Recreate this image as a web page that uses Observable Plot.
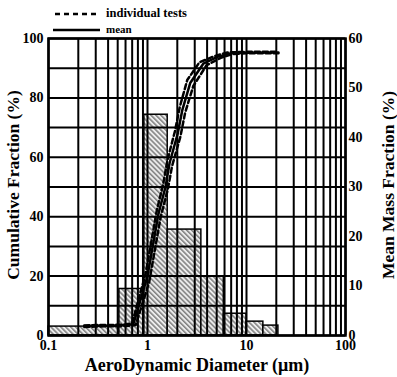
<!DOCTYPE html>
<html>
<head>
<meta charset="utf-8">
<script src="https://cdn.jsdelivr.net/npm/d3@7"></script>
<script src="https://cdn.jsdelivr.net/npm/@observablehq/plot@0.6"></script>
<style>
  html, body { margin: 0; padding: 0; background: white; }
  #wrap { position: relative; width: 397px; height: 377px; }
  .leg { position: absolute; font-family: 'Liberation Serif', 'Times New Roman', serif; font-weight: bold; color: black; white-space: nowrap; }
  .leg svg { position: absolute; }
</style>
</head>
<body>
<svg width="0" height="0" style="position:absolute">
  <defs>
    <pattern id="hatch" patternUnits="userSpaceOnUse" width="3.5" height="3.5" patternTransform="rotate(-45)">
      <rect width="3.5" height="3.5" fill="#ececec"></rect>
      <line x1="0.8" y1="0" x2="0.8" y2="3.5" stroke="#555" stroke-width="1.1"></line>
    </pattern>
  </defs>
</svg>
<div id="wrap">
  <div class="leg" style="left:53px; top:6px; font-size:12.5px;">
    <svg width="50" height="16" style="left:0; top:0;"><line x1="2" y1="8" x2="46" y2="8" stroke="black" stroke-width="2.5" stroke-dasharray="5,4"></line></svg>
    <span style="position:absolute; left:53px; top:0px;">individual tests</span>
  </div>
  <div class="leg" style="left:53px; top:22px; font-size:11px;">
    <svg width="50" height="16" style="left:0; top:0;"><line x1="0" y1="8" x2="47" y2="8" stroke="black" stroke-width="2.5"></line></svg>
    <span style="position:absolute; left:53px; top:1px;">mean</span>
  </div>
</div>
<script>
// Histogram (mean mass fraction, %), bin edges in µm
const binLo   = [0.1, 0.52, 0.93, 1.6, 3.5, 5.9, 10, 14.8];
const binHi   = [0.52, 0.93, 1.6, 3.5, 5.9, 10, 14.8, 21];
const binMass = [1.8, 9.4, 44.6, 21.4, 11.9, 4.4, 2.8, 2.0];

// Mean cumulative curve
const meanD = [0.23, 0.3, 0.4, 0.5, 0.6, 0.72, 1.0, 1.29, 1.52, 1.67, 2.02, 2.25, 2.7, 3.66, 5.1, 6.9, 10, 21];
const meanC = [3.2, 3.3, 3.3, 3.4, 3.5, 3.8, 20, 41, 50, 58, 68, 76, 85, 91.5, 93.8, 95, 95.2, 95.3];

// Individual tests
const testAD = [0.23, 0.3, 0.4, 0.5, 0.6, 0.7, 0.96, 1.24, 1.44, 1.59, 1.9, 2.12, 2.52, 3.35, 4.7, 6.4, 10, 21];
const testAC = [3.4, 3.5, 3.5, 3.6, 3.7, 4.2, 21, 42, 51, 59, 69, 77, 86, 92, 94, 95.3, 95.5, 95.5];
const testBD = [0.23, 0.3, 0.4, 0.5, 0.6, 0.76, 1.04, 1.36, 1.6, 1.77, 2.15, 2.4, 2.9, 3.95, 5.5, 7.3, 10, 21];
const testBC = [2.9, 3.0, 3.1, 3.1, 3.2, 3.5, 18, 40, 49, 57, 67, 75, 84, 91, 93.5, 94.8, 95, 95];

// Ticks
const xTicks = [0.1, 1, 10, 100];
const yTicksLeft = [0, 20, 40, 60, 80, 100];
const yTicksRight = [0, 10, 20, 30, 40, 50, 60];

const bars = binLo.map((lo, i) => ({lo, hi: binHi[i], mass: binMass[i]}));
const mean = meanD.map((d, i) => ({d, c: meanC[i]}));
const testA = testAD.map((d, i) => ({d, c: testAC[i]}));
const testB = testBD.map((d, i) => ({d, c: testBC[i]}));

const gridX = [];
for (const dec of [0.1, 1, 10]) for (let k = 1; k <= 9; k++) gridX.push(+(dec * k).toPrecision(3));
gridX.push(100);
const gridY = d3.range(0, 101, 10);
const RF = 100 / 60;

const chart = Plot.plot({
  width: 397, height: 377,
  marginLeft: 48, marginRight: 52, marginTop: 38, marginBottom: 42,
  x: {type: "log", domain: [0.1, 100]},
  y: {domain: [0, 100]},
  style: {fontFamily: "'Liberation Serif', 'Times New Roman', serif", fontWeight: "bold", fontSize: "14px", background: "transparent", color: "black", overflow: "visible"},
  marks: [
    Plot.rect(bars, {x1: "lo", x2: "hi", y1: 0, y2: d => d.mass * RF, fill: "url(#hatch)", stroke: "black", strokeWidth: 1.5}),
    Plot.ruleX(gridX, {strokeWidth: 2, stroke: "black"}),
    Plot.ruleY(gridY, {strokeWidth: 2, stroke: "black"}),
    Plot.frame({strokeWidth: 2.5, stroke: "black"}),
    Plot.line(testA, {x: "d", y: "c", strokeWidth: 2.5, strokeDasharray: "5,3", stroke: "black"}),
    Plot.line(testB, {x: "d", y: "c", strokeWidth: 2.5, strokeDasharray: "5,3", stroke: "black"}),
    Plot.line(mean, {x: "d", y: "c", strokeWidth: 2.5, stroke: "black"}),
    Plot.axisX(xTicks, {tickSize: 0, tickPadding: 5, tickFormat: d => String(d), label: null}),
    Plot.axisY(yTicksLeft, {tickSize: 0, tickPadding: 5, label: null}),
    Plot.axisY(yTicksRight.map(v => v * RF), {anchor: "right", tickSize: 0, tickPadding: 3, tickFormat: d => String(Math.round(d / RF)), label: null}),
    Plot.text(["AeroDynamic Diameter (\u03bcm)"], {frameAnchor: "bottom", dy: 35, fontSize: 18, fontWeight: "bold"}),
    Plot.text(["Cumulative Fraction (%)"], {frameAnchor: "left", textAnchor: "middle", dx: -35, dy: -2, rotate: -90, fontSize: 17.5, fontWeight: "bold"}),
    Plot.text(["Mean Mass Fraction (%)"], {frameAnchor: "right", textAnchor: "middle", dx: 43, dy: -2, rotate: -90, fontSize: 17.5, fontWeight: "bold"})
  ]
});
chart.style.position = "absolute";
chart.style.left = "0";
chart.style.top = "0";
document.getElementById("wrap").prepend(chart);
</script>
</body>
</html>
